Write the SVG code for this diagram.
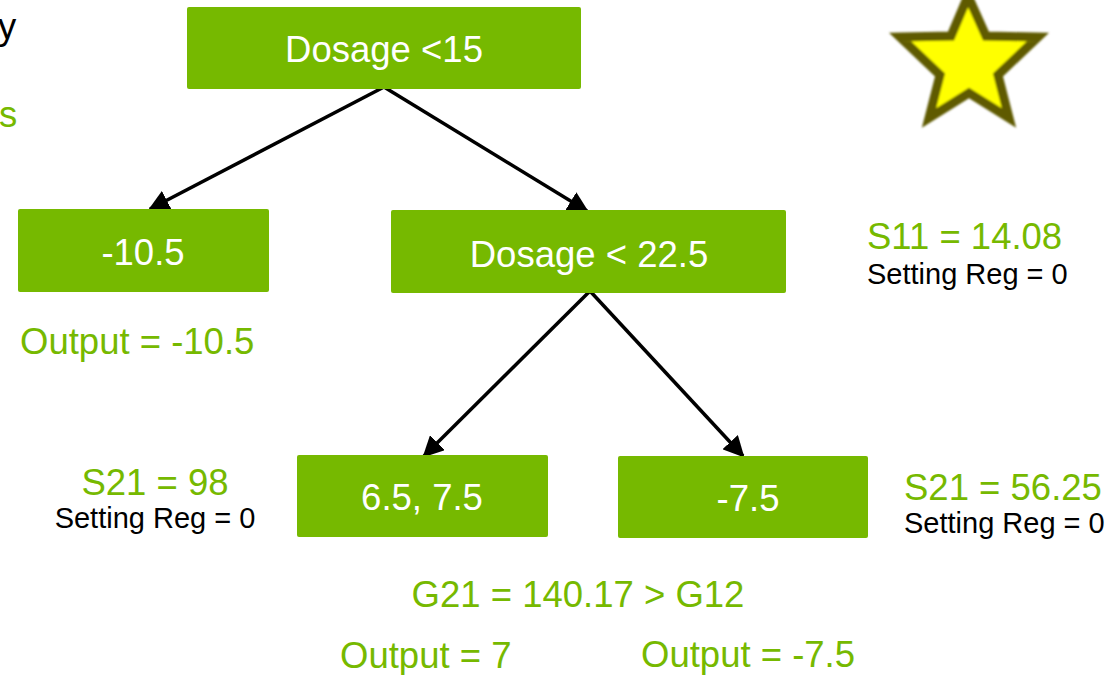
<svg xmlns="http://www.w3.org/2000/svg" width="1115" height="675" viewBox="0 0 1115 675">
  <defs>
    <marker id="arrow" viewBox="0 0 10 10" refX="9" refY="5" markerWidth="6" markerHeight="6" markerUnits="strokeWidth" orient="auto">
      <path d="M0,0 L10,5 L0,10 z" fill="#000"/>
    </marker>
    <filter id="soft" x="-10%" y="-10%" width="120%" height="120%">
      <feGaussianBlur stdDeviation="0.8"/>
    </filter>
  </defs>
  <style>
    .box { fill: #76b900; }
    .lbl { fill: #ffffff; font-family: "Liberation Sans", Arial, sans-serif; font-size: 36.5px; text-anchor: middle; }
    .g { fill: #76b900; font-family: "Liberation Sans", Arial, sans-serif; font-size: 36.5px; }
    .k { fill: #000000; font-family: "Liberation Sans", Arial, sans-serif; font-size: 29px; }
    .edge { stroke: #000; stroke-width: 3.5; fill: none; marker-end: url(#arrow); }
  </style>
  <rect width="1115" height="675" fill="#ffffff"/>

  <!-- text fragments running in from the left edge -->
  <text class="k" x="-2" y="39" style="font-size:36.5px">y</text>
  <text class="g" x="-1" y="127">s</text>

  <!-- star -->
  <polygon points="968,-4 986,36 1038,37 998,75 1009,118 969,93 929,118 940,75 900,37 951,36" fill="#ffff00" stroke="#5e5a00" stroke-width="9" stroke-linejoin="miter" stroke-miterlimit="10" filter="url(#soft)"/>

  <g id="connectors">
    <line class="edge" x1="384" y1="87" x2="150" y2="209"/>
    <line class="edge" x1="384" y1="87" x2="587" y2="211"/>
    <line class="edge" x1="590" y1="291" x2="424" y2="456"/>
    <line class="edge" x1="590" y1="291" x2="743" y2="456"/>
  </g>

  <g id="root">
    <rect class="box" x="187" y="7" width="394" height="82" rx="2"/>
    <text class="lbl" x="384" y="62">Dosage &lt;15</text>
  </g>
  <g id="leaf-left">
    <rect class="box" x="18" y="209" width="251" height="83" rx="2"/>
    <text class="lbl" x="143" y="265">-10.5</text>
  </g>
  <g id="split-mid">
    <rect class="box" x="391" y="210" width="395" height="83" rx="2"/>
    <text class="lbl" x="589" y="267">Dosage &lt; 22.5</text>
  </g>
  <g id="leaf-mid-left">
    <rect class="box" x="297" y="455" width="251" height="82" rx="2"/>
    <text class="lbl" x="422" y="510">6.5, 7.5</text>
  </g>
  <g id="leaf-mid-right">
    <rect class="box" x="618" y="456" width="250" height="82" rx="2"/>
    <text class="lbl" x="748" y="511">-7.5</text>
  </g>

  <g id="annotations">
    <text class="g" x="20" y="354">Output = -10.5</text>
    <text class="g" x="867" y="249">S11 = 14.08</text>
    <text class="k" x="867" y="284">Setting Reg = 0</text>
    <text class="g" x="155" y="495" text-anchor="middle">S21 = 98</text>
    <text class="k" x="155" y="528" text-anchor="middle">Setting Reg = 0</text>
    <text class="g" x="904" y="500">S21 = 56.25</text>
    <text class="k" x="904" y="533">Setting Reg = 0</text>
    <text class="g" x="578" y="607" text-anchor="middle">G21 = 140.17 &gt; G12</text>
    <text class="g" x="340" y="668">Output = 7</text>
    <text class="g" x="641" y="667">Output = -7.5</text>
  </g>
</svg>
